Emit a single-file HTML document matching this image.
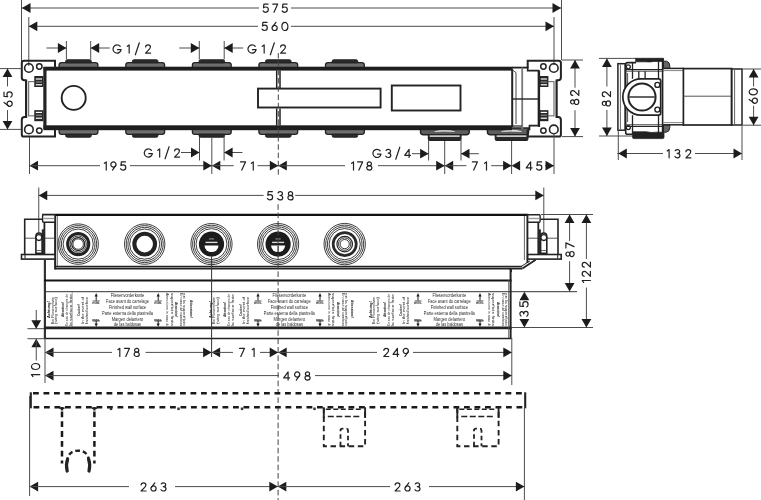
<!DOCTYPE html>
<html><head><meta charset="utf-8"><style>
html,body{margin:0;padding:0;background:#fff;width:761px;height:500px;overflow:hidden}
svg{display:block;will-change:transform}
text{font-family:"Liberation Sans",sans-serif}
</style></head><body>
<svg width="761" height="500" viewBox="0 0 761 500">
<rect x="0" y="0" width="761" height="500" fill="#fff"/>
<line x1="21.5" y1="0" x2="21.5" y2="61" stroke="#4d4d4d" stroke-width="1.0"/>
<line x1="561.5" y1="0" x2="561.5" y2="60" stroke="#4d4d4d" stroke-width="1.0"/>
<line x1="28.8" y1="17" x2="28.8" y2="66" stroke="#4d4d4d" stroke-width="1.0"/>
<line x1="554" y1="17" x2="554" y2="65" stroke="#4d4d4d" stroke-width="1.0"/>
<line x1="22" y1="8" x2="259" y2="8" stroke="#4d4d4d" stroke-width="1.0"/>
<line x1="291" y1="8" x2="561" y2="8" stroke="#4d4d4d" stroke-width="1.0"/>
<polygon points="22.00,8.00 30.50,3.10 30.50,12.90" fill="#1c1c1c"/>
<polygon points="561.00,8.00 552.50,3.10 552.50,12.90" fill="#1c1c1c"/>
<g fill="none" stroke="#222" stroke-width="1.2" stroke-linecap="round" stroke-linejoin="round" transform="translate(262.60 3.60) scale(1.000)"><g transform="translate(0.00 0)"><path d="M5.5,0.5 L1.3,0.5 L0.9,4.2 C1.5,3.7 2.3,3.4 3.2,3.4 C4.7,3.4 5.7,4.5 5.7,6.0 C5.7,7.6 4.6,8.7 3.0,8.7 C1.9,8.7 1.0,8.2 0.5,7.3"/></g><g transform="translate(9.60 0)"><path d="M0.5,0.5 L5.5,0.5 L1.8,8.7"/></g><g transform="translate(19.00 0)"><path d="M5.5,0.5 L1.3,0.5 L0.9,4.2 C1.5,3.7 2.3,3.4 3.2,3.4 C4.7,3.4 5.7,4.5 5.7,6.0 C5.7,7.6 4.6,8.7 3.0,8.7 C1.9,8.7 1.0,8.2 0.5,7.3"/></g></g>
<line x1="28.8" y1="26.3" x2="258" y2="26.3" stroke="#4d4d4d" stroke-width="1.0"/>
<line x1="291" y1="26.3" x2="554" y2="26.3" stroke="#4d4d4d" stroke-width="1.0"/>
<polygon points="28.80,26.30 37.30,21.40 37.30,31.20" fill="#1c1c1c"/>
<polygon points="554.00,26.30 545.50,21.40 545.50,31.20" fill="#1c1c1c"/>
<g fill="none" stroke="#222" stroke-width="1.2" stroke-linecap="round" stroke-linejoin="round" transform="translate(261.60 21.80) scale(1.000)"><g transform="translate(0.00 0)"><path d="M5.5,0.5 L1.3,0.5 L0.9,4.2 C1.5,3.7 2.3,3.4 3.2,3.4 C4.7,3.4 5.7,4.5 5.7,6.0 C5.7,7.6 4.6,8.7 3.0,8.7 C1.9,8.7 1.0,8.2 0.5,7.3"/></g><g transform="translate(9.80 0)"><path d="M4.5,0.5 L1.2,5.0"/><circle cx="3.2" cy="6.1" r="2.6"/></g><g transform="translate(19.80 0)"><ellipse cx="3.5" cy="4.6" rx="3.0" ry="4.1"/></g></g>
<path d="M59.1,68 L59.1,65 Q59.1,62.6 61.7,62.6 L95.3,62.6 Q97.9,62.6 97.9,65 L97.9,68 Z" fill="#6e6e6e" stroke="#232323" stroke-width="1.3" />
<path d="M65.7,62.8 L65.7,61.3 Q65.7,59.8 67.3,59.8 L89.7,59.8 Q91.3,59.8 91.3,61.3 L91.3,62.8 Z" fill="#2b2b2b" stroke="#232323" stroke-width="1" />
<path d="M59.1,129 L59.1,132 Q59.1,134.4 61.7,134.4 L95.3,134.4 Q97.9,134.4 97.9,132 L97.9,129 Z" fill="#6e6e6e" stroke="#232323" stroke-width="1.3" />
<path d="M65.7,134.2 L65.7,135.7 Q65.7,137.2 67.3,137.2 L89.7,137.2 Q91.3,137.2 91.3,135.7 L91.3,134.2 Z" fill="#2b2b2b" stroke="#232323" stroke-width="1" />
<path d="M125.79999999999998,68 L125.79999999999998,65 Q125.79999999999998,62.6 128.39999999999998,62.6 L162.0,62.6 Q164.6,62.6 164.6,65 L164.6,68 Z" fill="#6e6e6e" stroke="#232323" stroke-width="1.3" />
<path d="M132.39999999999998,62.8 L132.39999999999998,61.3 Q132.39999999999998,59.8 134.0,59.8 L156.39999999999998,59.8 Q158.0,59.8 158.0,61.3 L158.0,62.8 Z" fill="#2b2b2b" stroke="#232323" stroke-width="1" />
<path d="M125.79999999999998,129 L125.79999999999998,132 Q125.79999999999998,134.4 128.39999999999998,134.4 L162.0,134.4 Q164.6,134.4 164.6,132 L164.6,129 Z" fill="#6e6e6e" stroke="#232323" stroke-width="1.3" />
<path d="M132.39999999999998,134.2 L132.39999999999998,135.7 Q132.39999999999998,137.2 134.0,137.2 L156.39999999999998,137.2 Q158.0,137.2 158.0,135.7 L158.0,134.2 Z" fill="#2b2b2b" stroke="#232323" stroke-width="1" />
<path d="M192.4,68 L192.4,65 Q192.4,62.6 195.0,62.6 L228.60000000000002,62.6 Q231.20000000000002,62.6 231.20000000000002,65 L231.20000000000002,68 Z" fill="#6e6e6e" stroke="#232323" stroke-width="1.3" />
<path d="M199.0,62.8 L199.0,61.3 Q199.0,59.8 200.60000000000002,59.8 L223.0,59.8 Q224.60000000000002,59.8 224.60000000000002,61.3 L224.60000000000002,62.8 Z" fill="#2b2b2b" stroke="#232323" stroke-width="1" />
<path d="M192.4,129 L192.4,132 Q192.4,134.4 195.0,134.4 L228.60000000000002,134.4 Q231.20000000000002,134.4 231.20000000000002,132 L231.20000000000002,129 Z" fill="#6e6e6e" stroke="#232323" stroke-width="1.3" />
<path d="M199.0,134.2 L199.0,135.7 Q199.0,137.2 200.60000000000002,137.2 L223.0,137.2 Q224.60000000000002,137.2 224.60000000000002,135.7 L224.60000000000002,134.2 Z" fill="#2b2b2b" stroke="#232323" stroke-width="1" />
<path d="M258.90000000000003,68 L258.90000000000003,65 Q258.90000000000003,62.6 261.5,62.6 L295.1,62.6 Q297.7,62.6 297.7,65 L297.7,68 Z" fill="#6e6e6e" stroke="#232323" stroke-width="1.3" />
<path d="M265.5,62.8 L265.5,61.3 Q265.5,59.8 267.1,59.8 L289.5,59.8 Q291.1,59.8 291.1,61.3 L291.1,62.8 Z" fill="#2b2b2b" stroke="#232323" stroke-width="1" />
<path d="M258.90000000000003,129 L258.90000000000003,132 Q258.90000000000003,134.4 261.5,134.4 L295.1,134.4 Q297.7,134.4 297.7,132 L297.7,129 Z" fill="#6e6e6e" stroke="#232323" stroke-width="1.3" />
<path d="M265.5,134.2 L265.5,135.7 Q265.5,137.2 267.1,137.2 L289.5,137.2 Q291.1,137.2 291.1,135.7 L291.1,134.2 Z" fill="#2b2b2b" stroke="#232323" stroke-width="1" />
<path d="M325.5,68 L325.5,65 Q325.5,62.6 328.09999999999997,62.6 L361.7,62.6 Q364.29999999999995,62.6 364.29999999999995,65 L364.29999999999995,68 Z" fill="#6e6e6e" stroke="#232323" stroke-width="1.3" />
<path d="M332.09999999999997,62.8 L332.09999999999997,61.3 Q332.09999999999997,59.8 333.7,59.8 L356.09999999999997,59.8 Q357.7,59.8 357.7,61.3 L357.7,62.8 Z" fill="#2b2b2b" stroke="#232323" stroke-width="1" />
<path d="M325.5,129 L325.5,132 Q325.5,134.4 328.09999999999997,134.4 L361.7,134.4 Q364.29999999999995,134.4 364.29999999999995,132 L364.29999999999995,129 Z" fill="#6e6e6e" stroke="#232323" stroke-width="1.3" />
<path d="M332.09999999999997,134.2 L332.09999999999997,135.7 Q332.09999999999997,137.2 333.7,137.2 L356.09999999999997,137.2 Q357.7,137.2 357.7,135.7 L357.7,134.2 Z" fill="#2b2b2b" stroke="#232323" stroke-width="1" />
<path d="M420.5,128 L420.5,132 Q420.5,134.7 423.5,134.7 L466.2,134.7 Q469.2,134.7 469.2,132 L469.2,128 Z" fill="#5e5e5e" stroke="#232323" stroke-width="1.4" />
<path d="M434.7,131.5 Q444.7,128.6 454.7,131.5 Q444.7,130.9 434.7,131.5 Z" fill="#fff" stroke="#ddd" stroke-width="0.6" />
<path d="M428.4,134.7 L428.4,139 Q428.4,140.4 429.9,140.4 L459.5,140.4 Q461.0,140.4 461.0,139 L461.0,134.7 Z" fill="#2a2a2a" stroke="#232323" stroke-width="1.2" />
<line x1="429.7" y1="136.1" x2="459.7" y2="136.1" stroke="#fff" stroke-width="1.3"/>
<path d="M487.40000000000003,128 L487.40000000000003,132 Q487.40000000000003,134.7 490.40000000000003,134.7 L525.6,134.7 Q528.6,134.7 528.6,132 L528.6,128 Z" fill="#5e5e5e" stroke="#232323" stroke-width="1.4" />
<path d="M501.6,131.5 Q511.6,128.6 521.6,131.5 Q511.6,130.9 501.6,131.5 Z" fill="#fff" stroke="#ddd" stroke-width="0.6" />
<path d="M495.3,134.7 L495.3,139 Q495.3,140.4 496.8,140.4 L526.4,140.4 Q527.9,140.4 527.9,139 L527.9,134.7 Z" fill="#2a2a2a" stroke="#232323" stroke-width="1.2" />
<line x1="496.6" y1="136.1" x2="526.6" y2="136.1" stroke="#fff" stroke-width="1.3"/>
<rect x="43.5" y="66.7" width="469" height="3.9" fill="#1e1e1e"/>
<line x1="512" y1="67.6" x2="528" y2="67.6" stroke="#1e1e1e" stroke-width="1.8"/>
<rect x="43.5" y="125.3" width="468.5" height="4.9" fill="#1e1e1e"/>
<rect x="43.3" y="67.2" width="3.2" height="62" fill="#232323"/>
<circle cx="73.7" cy="97.9" r="12" fill="none" stroke="#232323" stroke-width="1.9"/>
<rect x="258" y="88.6" width="122.6" height="18.9" rx="0" fill="none" stroke="#232323" stroke-width="1.9"/>
<rect x="391.8" y="85.5" width="68.7" height="25" rx="0" fill="none" stroke="#232323" stroke-width="1.9"/>
<line x1="276.7" y1="70.5" x2="276.7" y2="88" stroke="#222" stroke-width="1.5"/>
<line x1="280" y1="70.5" x2="280" y2="88" stroke="#222" stroke-width="1.5"/>
<line x1="276.7" y1="108.5" x2="276.7" y2="125.6" stroke="#222" stroke-width="1.5"/>
<line x1="280" y1="108.5" x2="280" y2="125.6" stroke="#222" stroke-width="1.5"/>
<rect x="511.2" y="69" width="2" height="58" fill="#232323"/>
<line x1="516" y1="72.5" x2="516" y2="124" stroke="#555" stroke-width="1.1"/>
<line x1="512.5" y1="70" x2="516" y2="72.5" stroke="#555" stroke-width="1"/>
<line x1="522.2" y1="67.5" x2="522.2" y2="129" stroke="#7a7a7a" stroke-width="1.8"/>
<line x1="512" y1="99" x2="538.5" y2="99" stroke="#232323" stroke-width="1.4"/>
<line x1="511.5" y1="126" x2="522" y2="126" stroke="#232323" stroke-width="1.2"/>
<g ><path d="M55,68 L55,60.8 L24,60.8 Q21.8,60.8 21.8,63 L21.8,77.5 Q21.8,80.3 24.5,80.3 L26,80.3 M55,129.4 L55,136.6 L24,136.6 Q21.8,136.6 21.8,134.4 L21.8,119.9 Q21.8,117.1 24.5,117.1 L26,117.1 " fill="none" stroke="#232323" stroke-width="2"/><line x1="26.1" y1="79.5" x2="26.1" y2="118" stroke="#232323" stroke-width="2.2"/><line x1="28.7" y1="81" x2="28.7" y2="116.4" stroke="#555" stroke-width="1"/><line x1="28.7" y1="81.6" x2="34.4" y2="81.6" stroke="#777" stroke-width="1.2"/><line x1="28.7" y1="115.8" x2="34.4" y2="115.8" stroke="#777" stroke-width="1.2"/><rect x="34.9" y="76.6" width="7.9" height="9.8" fill="#2a2a2a" stroke="#232323" stroke-width="1.2"/><line x1="35.8" y1="79.0" x2="42" y2="79.0" stroke="#fff" stroke-width="1.2"/><line x1="35.8" y1="82.0" x2="42" y2="82.0" stroke="#999" stroke-width="1"/><line x1="35.8" y1="84.8" x2="42" y2="84.8" stroke="#fff" stroke-width="1.2"/><rect x="34.9" y="110.8" width="7.9" height="9.8" fill="#2a2a2a" stroke="#232323" stroke-width="1.2"/><line x1="35.8" y1="112.39999999999999" x2="42" y2="112.39999999999999" stroke="#fff" stroke-width="1.2"/><line x1="35.8" y1="115.2" x2="42" y2="115.2" stroke="#999" stroke-width="1"/><line x1="35.8" y1="118.2" x2="42" y2="118.2" stroke="#fff" stroke-width="1.2"/><circle cx="28.9" cy="68.0" r="4.3" fill="none" stroke="#232323" stroke-width="1.6"/><circle cx="39.3" cy="66.5" r="2.7" fill="none" stroke="#232323" stroke-width="1.5"/><circle cx="28.9" cy="129.4" r="4.3" fill="none" stroke="#232323" stroke-width="1.6"/><circle cx="39.3" cy="130.6" r="2.7" fill="none" stroke="#232323" stroke-width="1.5"/></g>
<g transform="translate(582.7 0) scale(-1 1)"><path d="M55,68 L55,60.8 L24,60.8 Q21.8,60.8 21.8,63 L21.8,77.5 Q21.8,80.3 24.5,80.3 L26,80.3 M55,129.4 L55,136.6 L24,136.6 Q21.8,136.6 21.8,134.4 L21.8,119.9 Q21.8,117.1 24.5,117.1 L26,117.1 " fill="none" stroke="#232323" stroke-width="2"/><line x1="26.1" y1="79.5" x2="26.1" y2="118" stroke="#232323" stroke-width="2.2"/><line x1="28.7" y1="81" x2="28.7" y2="116.4" stroke="#555" stroke-width="1"/><line x1="28.7" y1="81.6" x2="34.4" y2="81.6" stroke="#777" stroke-width="1.2"/><line x1="28.7" y1="115.8" x2="34.4" y2="115.8" stroke="#777" stroke-width="1.2"/><rect x="34.9" y="76.6" width="7.9" height="9.8" fill="#2a2a2a" stroke="#232323" stroke-width="1.2"/><line x1="35.8" y1="79.0" x2="42" y2="79.0" stroke="#fff" stroke-width="1.2"/><line x1="35.8" y1="82.0" x2="42" y2="82.0" stroke="#999" stroke-width="1"/><line x1="35.8" y1="84.8" x2="42" y2="84.8" stroke="#fff" stroke-width="1.2"/><rect x="34.9" y="110.8" width="7.9" height="9.8" fill="#2a2a2a" stroke="#232323" stroke-width="1.2"/><line x1="35.8" y1="112.39999999999999" x2="42" y2="112.39999999999999" stroke="#fff" stroke-width="1.2"/><line x1="35.8" y1="115.2" x2="42" y2="115.2" stroke="#999" stroke-width="1"/><line x1="35.8" y1="118.2" x2="42" y2="118.2" stroke="#fff" stroke-width="1.2"/><circle cx="28.9" cy="68.0" r="4.3" fill="none" stroke="#232323" stroke-width="1.6"/><circle cx="39.3" cy="66.5" r="2.7" fill="none" stroke="#232323" stroke-width="1.5"/><circle cx="28.9" cy="129.4" r="4.3" fill="none" stroke="#232323" stroke-width="1.6"/><circle cx="39.3" cy="130.6" r="2.7" fill="none" stroke="#232323" stroke-width="1.5"/></g>
<path d="M527.7,67 L527.7,70.6 L538.5,70.6 L538.5,125.6 L529.5,125.6 L529.5,129.4 L527.7,129.4" fill="none" stroke="#232323" stroke-width="1.7" />
<rect x="538.2" y="70.5" width="1.9" height="56.5" fill="#232323"/>
<line x1="66.4" y1="41" x2="66.4" y2="59.5" stroke="#4d4d4d" stroke-width="1.0"/>
<line x1="90.7" y1="41" x2="90.7" y2="59.5" stroke="#4d4d4d" stroke-width="1.0"/>
<line x1="46.4" y1="48" x2="66.4" y2="48" stroke="#4d4d4d" stroke-width="1.0"/>
<polygon points="66.40,48.00 57.90,43.10 57.90,52.90" fill="#1c1c1c"/>
<line x1="90.7" y1="48" x2="109.7" y2="48" stroke="#4d4d4d" stroke-width="1.0"/>
<polygon points="90.70,48.00 99.20,43.10 99.20,52.90" fill="#1c1c1c"/>
<g fill="none" stroke="#222" stroke-width="1.2" stroke-linecap="round" stroke-linejoin="round" transform="translate(112.50 44.40) scale(1.000)"><g transform="translate(0.00 0)"><path d="M7.74,1.96 A4.1,4.1 0 1 0 8.64,5.31 L5.0,5.31"/></g><g transform="translate(14.17 0)"><path d="M0.6,1.9 L2.5,0.5 L2.5,8.7"/></g><g transform="translate(22.33 0)"><path d="M4.5,-1.6 L0.5,10.4"/></g><g transform="translate(32.50 0)"><path d="M0.6,2.6 C0.7,1.3 1.7,0.5 3.0,0.5 C4.4,0.5 5.4,1.4 5.4,2.7 C5.4,3.6 4.9,4.3 4.2,5.0 L0.6,8.7 L5.6,8.7"/></g></g>
<line x1="199.3" y1="41" x2="199.3" y2="59.5" stroke="#4d4d4d" stroke-width="1.0"/>
<line x1="224.2" y1="41" x2="224.2" y2="59.5" stroke="#4d4d4d" stroke-width="1.0"/>
<line x1="179.3" y1="48" x2="199.3" y2="48" stroke="#4d4d4d" stroke-width="1.0"/>
<polygon points="199.30,48.00 190.80,43.10 190.80,52.90" fill="#1c1c1c"/>
<line x1="224.2" y1="48" x2="243.2" y2="48" stroke="#4d4d4d" stroke-width="1.0"/>
<polygon points="224.20,48.00 232.70,43.10 232.70,52.90" fill="#1c1c1c"/>
<g fill="none" stroke="#222" stroke-width="1.2" stroke-linecap="round" stroke-linejoin="round" transform="translate(247.50 44.40) scale(1.000)"><g transform="translate(0.00 0)"><path d="M7.74,1.96 A4.1,4.1 0 1 0 8.64,5.31 L5.0,5.31"/></g><g transform="translate(14.17 0)"><path d="M0.6,1.9 L2.5,0.5 L2.5,8.7"/></g><g transform="translate(22.33 0)"><path d="M4.5,-1.6 L0.5,10.4"/></g><g transform="translate(32.50 0)"><path d="M0.6,2.6 C0.7,1.3 1.7,0.5 3.0,0.5 C4.4,0.5 5.4,1.4 5.4,2.7 C5.4,3.6 4.9,4.3 4.2,5.0 L0.6,8.7 L5.6,8.7"/></g></g>
<line x1="199.5" y1="137" x2="199.5" y2="160.5" stroke="#4d4d4d" stroke-width="1.0"/>
<line x1="224.1" y1="137" x2="224.1" y2="160.5" stroke="#4d4d4d" stroke-width="1.0"/>
<line x1="181" y1="152.5" x2="199.5" y2="152.5" stroke="#4d4d4d" stroke-width="1.0"/>
<polygon points="199.50,152.50 191.00,147.60 191.00,157.40" fill="#1c1c1c"/>
<line x1="224.1" y1="152.5" x2="242.5" y2="152.5" stroke="#4d4d4d" stroke-width="1.0"/>
<polygon points="224.10,152.50 232.60,147.60 232.60,157.40" fill="#1c1c1c"/>
<g fill="none" stroke="#222" stroke-width="1.2" stroke-linecap="round" stroke-linejoin="round" transform="translate(143.75 148.40) scale(1.000)"><g transform="translate(0.00 0)"><path d="M7.74,1.96 A4.1,4.1 0 1 0 8.64,5.31 L5.0,5.31"/></g><g transform="translate(13.42 0)"><path d="M0.6,1.9 L2.5,0.5 L2.5,8.7"/></g><g transform="translate(20.83 0)"><path d="M4.5,-1.6 L0.5,10.4"/></g><g transform="translate(30.25 0)"><path d="M0.6,2.6 C0.7,1.3 1.7,0.5 3.0,0.5 C4.4,0.5 5.4,1.4 5.4,2.7 C5.4,3.6 4.9,4.3 4.2,5.0 L0.6,8.7 L5.6,8.7"/></g></g>
<line x1="428.6" y1="140" x2="428.6" y2="160.5" stroke="#4d4d4d" stroke-width="1.0"/>
<line x1="461" y1="140" x2="461" y2="160.5" stroke="#4d4d4d" stroke-width="1.0"/>
<line x1="412" y1="153.7" x2="428.6" y2="153.7" stroke="#4d4d4d" stroke-width="1.0"/>
<polygon points="428.60,153.70 420.10,148.80 420.10,158.60" fill="#1c1c1c"/>
<line x1="461" y1="153.7" x2="478.8" y2="153.7" stroke="#4d4d4d" stroke-width="1.0"/>
<polygon points="461.00,153.70 469.50,148.80 469.50,158.60" fill="#1c1c1c"/>
<g fill="none" stroke="#222" stroke-width="1.2" stroke-linecap="round" stroke-linejoin="round" transform="translate(372.40 148.80) scale(1.000)"><g transform="translate(0.00 0)"><path d="M7.74,1.96 A4.1,4.1 0 1 0 8.64,5.31 L5.0,5.31"/></g><g transform="translate(12.93 0)"><path d="M0.8,1.6 C1.3,0.9 2.1,0.5 3.0,0.5 C4.3,0.5 5.2,1.3 5.2,2.4 C5.2,3.6 4.2,4.3 2.8,4.3 C4.6,4.3 5.5,5.2 5.5,6.5 C5.5,7.8 4.4,8.7 3.0,8.7 C1.9,8.7 1.0,8.2 0.5,7.4"/></g><g transform="translate(22.87 0)"><path d="M4.5,-1.6 L0.5,10.4"/></g><g transform="translate(31.80 0)"><path d="M4.9,8.7 L4.9,0.5 L0.5,6.5 L6.3,6.5"/></g></g>
<line x1="29.5" y1="137" x2="29.5" y2="174" stroke="#4d4d4d" stroke-width="1.0"/>
<line x1="211.8" y1="137" x2="211.8" y2="174" stroke="#4d4d4d" stroke-width="1.0"/>
<line x1="444.7" y1="141" x2="444.7" y2="174" stroke="#4d4d4d" stroke-width="1.0"/>
<line x1="511.6" y1="141" x2="511.6" y2="174" stroke="#4d4d4d" stroke-width="1.0"/>
<line x1="554" y1="133" x2="554" y2="174" stroke="#4d4d4d" stroke-width="1.0"/>
<polygon points="29.50,165.70 38.00,160.80 38.00,170.60" fill="#1c1c1c"/>
<line x1="29.5" y1="165.7" x2="100" y2="165.7" stroke="#4d4d4d" stroke-width="1.0"/>
<g fill="none" stroke="#222" stroke-width="1.2" stroke-linecap="round" stroke-linejoin="round" transform="translate(103.75 161.40) scale(1.000)"><g transform="translate(0.00 0)"><path d="M0.6,1.9 L2.5,0.5 L2.5,8.7"/></g><g transform="translate(6.45 0)"><circle cx="3.2" cy="3.1" r="2.6"/><path d="M5.6,4.0 L2.3,8.7"/></g><g transform="translate(16.30 0)"><path d="M5.5,0.5 L1.3,0.5 L0.9,4.2 C1.5,3.7 2.3,3.4 3.2,3.4 C4.7,3.4 5.7,4.5 5.7,6.0 C5.7,7.6 4.6,8.7 3.0,8.7 C1.9,8.7 1.0,8.2 0.5,7.3"/></g></g>
<line x1="130" y1="165.7" x2="211.8" y2="165.7" stroke="#4d4d4d" stroke-width="1.0"/>
<polygon points="211.80,165.70 203.30,160.80 203.30,170.60" fill="#1c1c1c"/>
<polygon points="211.80,165.70 220.30,160.80 220.30,170.60" fill="#1c1c1c"/>
<line x1="211.8" y1="165.7" x2="233.75" y2="165.7" stroke="#4d4d4d" stroke-width="1.0"/>
<g fill="none" stroke="#222" stroke-width="1.2" stroke-linecap="round" stroke-linejoin="round" transform="translate(240.00 161.40) scale(1.000)"><g transform="translate(0.00 0)"><path d="M0.5,0.5 L5.5,0.5 L1.8,8.7"/></g><g transform="translate(10.75 0)"><path d="M0.6,1.9 L2.5,0.5 L2.5,8.7"/></g></g>
<line x1="257.5" y1="165.7" x2="278.3" y2="165.7" stroke="#4d4d4d" stroke-width="1.0"/>
<polygon points="278.30,165.70 269.80,160.80 269.80,170.60" fill="#1c1c1c"/>
<polygon points="278.30,165.70 286.80,160.80 286.80,170.60" fill="#1c1c1c"/>
<line x1="278.3" y1="165.7" x2="345" y2="165.7" stroke="#4d4d4d" stroke-width="1.0"/>
<g fill="none" stroke="#222" stroke-width="1.2" stroke-linecap="round" stroke-linejoin="round" transform="translate(351.00 161.40) scale(1.000)"><g transform="translate(0.00 0)"><path d="M0.6,1.9 L2.5,0.5 L2.5,8.7"/></g><g transform="translate(6.10 0)"><path d="M0.5,0.5 L5.5,0.5 L1.8,8.7"/></g><g transform="translate(15.20 0)"><ellipse cx="3.1" cy="2.45" rx="2.1" ry="1.95"/><ellipse cx="3.1" cy="6.45" rx="2.6" ry="2.25"/></g></g>
<line x1="378" y1="165.7" x2="444.7" y2="165.7" stroke="#4d4d4d" stroke-width="1.0"/>
<polygon points="444.70,165.70 436.20,160.80 436.20,170.60" fill="#1c1c1c"/>
<polygon points="444.70,165.70 453.20,160.80 453.20,170.60" fill="#1c1c1c"/>
<line x1="444.7" y1="165.7" x2="466.4" y2="165.7" stroke="#4d4d4d" stroke-width="1.0"/>
<g fill="none" stroke="#222" stroke-width="1.2" stroke-linecap="round" stroke-linejoin="round" transform="translate(471.90 161.40) scale(1.000)"><g transform="translate(0.00 0)"><path d="M0.5,0.5 L5.5,0.5 L1.8,8.7"/></g><g transform="translate(12.10 0)"><path d="M0.6,1.9 L2.5,0.5 L2.5,8.7"/></g></g>
<line x1="491.2" y1="165.7" x2="511.6" y2="165.7" stroke="#4d4d4d" stroke-width="1.0"/>
<polygon points="511.60,165.70 503.10,160.80 503.10,170.60" fill="#1c1c1c"/>
<polygon points="511.60,165.70 520.10,160.80 520.10,170.60" fill="#1c1c1c"/>
<g fill="none" stroke="#222" stroke-width="1.2" stroke-linecap="round" stroke-linejoin="round" transform="translate(525.70 161.40) scale(1.000)"><g transform="translate(0.00 0)"><path d="M4.9,8.7 L4.9,0.5 L0.5,6.5 L6.3,6.5"/></g><g transform="translate(10.40 0)"><path d="M5.5,0.5 L1.3,0.5 L0.9,4.2 C1.5,3.7 2.3,3.4 3.2,3.4 C4.7,3.4 5.7,4.5 5.7,6.0 C5.7,7.6 4.6,8.7 3.0,8.7 C1.9,8.7 1.0,8.2 0.5,7.3"/></g></g>
<line x1="545" y1="165.7" x2="554" y2="165.7" stroke="#4d4d4d" stroke-width="1.0"/>
<polygon points="554.00,165.70 545.50,160.80 545.50,170.60" fill="#1c1c1c"/>
<line x1="278.3" y1="53" x2="278.3" y2="177" stroke="#444" stroke-width="1" stroke-dasharray="5.5,2.8"/>
<line x1="0" y1="68.6" x2="21.5" y2="68.6" stroke="#4d4d4d" stroke-width="1.0"/>
<line x1="0" y1="129.4" x2="21.5" y2="129.4" stroke="#4d4d4d" stroke-width="1.0"/>
<line x1="7.5" y1="68.6" x2="7.5" y2="86.4" stroke="#4d4d4d" stroke-width="1.0"/>
<line x1="7.5" y1="110.1" x2="7.5" y2="129.4" stroke="#4d4d4d" stroke-width="1.0"/>
<polygon points="7.50,68.60 2.60,77.10 12.40,77.10" fill="#1c1c1c"/>
<polygon points="7.50,129.40 2.60,120.90 12.40,120.90" fill="#1c1c1c"/>
<g fill="none" stroke="#222" stroke-width="1.2" stroke-linecap="round" stroke-linejoin="round" transform="translate(3.50 107.00) rotate(-90) scale(1.000)"><g transform="translate(0.00 0)"><path d="M4.5,0.5 L1.2,5.0"/><circle cx="3.2" cy="6.1" r="2.6"/></g><g transform="translate(9.40 0)"><path d="M5.5,0.5 L1.3,0.5 L0.9,4.2 C1.5,3.7 2.3,3.4 3.2,3.4 C4.7,3.4 5.7,4.5 5.7,6.0 C5.7,7.6 4.6,8.7 3.0,8.7 C1.9,8.7 1.0,8.2 0.5,7.3"/></g></g>
<line x1="562" y1="60" x2="583" y2="60" stroke="#4d4d4d" stroke-width="1.0"/>
<line x1="562" y1="136.6" x2="583" y2="136.6" stroke="#4d4d4d" stroke-width="1.0"/>
<line x1="575" y1="60" x2="575" y2="87.7" stroke="#4d4d4d" stroke-width="1.0"/>
<line x1="575" y1="110.2" x2="575" y2="136.6" stroke="#4d4d4d" stroke-width="1.0"/>
<polygon points="575.00,60.00 570.10,68.50 579.90,68.50" fill="#1c1c1c"/>
<polygon points="575.00,136.60 570.10,128.10 579.90,128.10" fill="#1c1c1c"/>
<g fill="none" stroke="#222" stroke-width="1.2" stroke-linecap="round" stroke-linejoin="round" transform="translate(570.10 105.00) rotate(-90) scale(1.000)"><g transform="translate(0.00 0)"><ellipse cx="3.1" cy="2.45" rx="2.1" ry="1.95"/><ellipse cx="3.1" cy="6.45" rx="2.6" ry="2.25"/></g><g transform="translate(9.00 0)"><path d="M0.6,2.6 C0.7,1.3 1.7,0.5 3.0,0.5 C4.4,0.5 5.4,1.4 5.4,2.7 C5.4,3.6 4.9,4.3 4.2,5.0 L0.6,8.7 L5.6,8.7"/></g></g>
<line x1="599" y1="58.4" x2="636" y2="58.4" stroke="#4d4d4d" stroke-width="1.0"/>
<line x1="599" y1="136" x2="632" y2="136" stroke="#4d4d4d" stroke-width="1.0"/>
<line x1="606.9" y1="58.4" x2="606.9" y2="86.5" stroke="#4d4d4d" stroke-width="1.0"/>
<line x1="606.9" y1="109.9" x2="606.9" y2="136" stroke="#4d4d4d" stroke-width="1.0"/>
<polygon points="606.90,58.40 602.00,66.90 611.80,66.90" fill="#1c1c1c"/>
<polygon points="606.90,136.00 602.00,127.50 611.80,127.50" fill="#1c1c1c"/>
<g fill="none" stroke="#222" stroke-width="1.2" stroke-linecap="round" stroke-linejoin="round" transform="translate(601.80 106.50) rotate(-90) scale(1.000)"><g transform="translate(0.00 0)"><ellipse cx="3.1" cy="2.45" rx="2.1" ry="1.95"/><ellipse cx="3.1" cy="6.45" rx="2.6" ry="2.25"/></g><g transform="translate(9.30 0)"><path d="M0.6,2.6 C0.7,1.3 1.7,0.5 3.0,0.5 C4.4,0.5 5.4,1.4 5.4,2.7 C5.4,3.6 4.9,4.3 4.2,5.0 L0.6,8.7 L5.6,8.7"/></g></g>
<rect x="617.9" y="63.7" width="7.2" height="66.5" rx="0" fill="none" stroke="#232323" stroke-width="1.5"/>
<line x1="620.4" y1="64.5" x2="620.4" y2="129.5" stroke="#666" stroke-width="1"/>
<path d="M625.7,64.5 Q625.7,62.6 627.6,62.6 L636,62.6 M625.7,64.5 L625.7,132.5 Q625.7,134.3 627.6,134.3 L632.5,134.3" fill="none" stroke="#232323" stroke-width="1.6" />
<path d="M635.7,58.3 L663.5,58.3 L663.5,61.4 L654,61.4 Q650,62.3 646,61.8 L635.7,61.8 Z" fill="#222" stroke="#232323" stroke-width="0.8" />
<path d="M632.5,131.8 L646,131.8 Q652,133 657,132.2 L664,132.2 L664,137.3 Q664,138.6 662.5,138.6 L634,138.6 Q632.5,138.6 632.5,137.3 Z" fill="#222" stroke="#232323" stroke-width="0.8" />
<line x1="625.7" y1="69.6" x2="663.5" y2="69.6" stroke="#232323" stroke-width="1.4"/>
<line x1="625.7" y1="71.3" x2="663.5" y2="71.3" stroke="#555" stroke-width="0.9"/>
<line x1="625.7" y1="126.4" x2="663.5" y2="126.4" stroke="#232323" stroke-width="1.4"/>
<line x1="625.7" y1="124.6" x2="663.5" y2="124.6" stroke="#555" stroke-width="0.9"/>
<line x1="632.5" y1="71" x2="658.3" y2="71" stroke="#4d4d4d" stroke-width="0.1"/>
<line x1="632.5" y1="71.3" x2="632.5" y2="78.8" stroke="#232323" stroke-width="1.3"/>
<line x1="638.8" y1="71.3" x2="638.8" y2="78.8" stroke="#232323" stroke-width="1.3"/>
<line x1="645.1" y1="71.3" x2="645.1" y2="78.8" stroke="#232323" stroke-width="1.3"/>
<line x1="632.5" y1="115.2" x2="632.5" y2="124.6" stroke="#232323" stroke-width="1.3"/>
<line x1="632.5" y1="62" x2="632.5" y2="71" stroke="#232323" stroke-width="1.3"/>
<line x1="632.5" y1="124" x2="632.5" y2="134" stroke="#232323" stroke-width="1.3"/>
<line x1="658.5" y1="58.5" x2="658.5" y2="138" stroke="#232323" stroke-width="1.3"/>
<line x1="662.6" y1="58.5" x2="662.6" y2="138" stroke="#232323" stroke-width="1.6"/>
<circle cx="628.3" cy="66.8" r="2" fill="none" stroke="#232323" stroke-width="1.3"/>
<circle cx="628.3" cy="127.6" r="2" fill="none" stroke="#232323" stroke-width="1.3"/>
<line x1="627.6" y1="73" x2="627.6" y2="122" stroke="#555" stroke-width="1"/>
<path d="M660.7,81 Q660.7,78.8 658.5,78.8 L641,78.8 A18.15,18.15 0 0 0 641,115.1 L658.5,115.1 Q660.7,115.1 660.7,113 Z" fill="#fff" stroke="#232323" stroke-width="1.7" />
<circle cx="642" cy="97" r="13.6" fill="none" stroke="#232323" stroke-width="2"/>
<line x1="629.3" y1="97" x2="654.7" y2="97" stroke="#232323" stroke-width="1.4"/>
<circle cx="657.4" cy="84.9" r="2.5" fill="none" stroke="#232323" stroke-width="1.4"/>
<circle cx="657.4" cy="109.6" r="2.5" fill="none" stroke="#232323" stroke-width="1.4"/>
<path d="M663.5,61.2 L666.5,61.2 Q669.8,62 669.8,66 L669.8,68.4 L663.5,68.4 Z" fill="#666" stroke="#232323" stroke-width="1" />
<path d="M663.5,132.2 L666.5,132.2 Q669.8,131.4 669.8,127.4 L669.8,124.8 L663.5,124.8 Z" fill="#666" stroke="#232323" stroke-width="1" />
<line x1="663.5" y1="68.4" x2="684" y2="68.4" stroke="#232323" stroke-width="1.5"/>
<line x1="663.5" y1="124.8" x2="684" y2="124.8" stroke="#232323" stroke-width="1.5"/>
<line x1="663.5" y1="70.6" x2="684" y2="70.6" stroke="#777" stroke-width="0.9"/>
<line x1="663.5" y1="122.6" x2="684" y2="122.6" stroke="#777" stroke-width="0.9"/>
<rect x="683.4" y="68.6" width="48.2" height="56.4" rx="0" fill="none" stroke="#232323" stroke-width="1.7"/>
<line x1="683.4" y1="96.2" x2="731.6" y2="96.2" stroke="#555" stroke-width="1"/>
<rect x="731.6" y="69" width="10.4" height="56" rx="0" fill="none" stroke="#232323" stroke-width="1.5"/>
<line x1="734.6" y1="70" x2="734.6" y2="124" stroke="#666" stroke-width="1"/>
<line x1="742.5" y1="69" x2="761" y2="69" stroke="#4d4d4d" stroke-width="1.0"/>
<line x1="742.5" y1="125.2" x2="761" y2="125.2" stroke="#4d4d4d" stroke-width="1.0"/>
<line x1="753.6" y1="69" x2="753.6" y2="86.6" stroke="#4d4d4d" stroke-width="1.0"/>
<line x1="753.6" y1="105.8" x2="753.6" y2="125.2" stroke="#4d4d4d" stroke-width="1.0"/>
<polygon points="753.60,69.00 748.70,77.50 758.50,77.50" fill="#1c1c1c"/>
<polygon points="753.60,125.20 748.70,116.70 758.50,116.70" fill="#1c1c1c"/>
<g fill="none" stroke="#222" stroke-width="1.2" stroke-linecap="round" stroke-linejoin="round" transform="translate(748.70 103.90) rotate(-90) scale(1.000)"><g transform="translate(0.00 0)"><path d="M4.5,0.5 L1.2,5.0"/><circle cx="3.2" cy="6.1" r="2.6"/></g><g transform="translate(8.60 0)"><ellipse cx="3.5" cy="4.6" rx="3.0" ry="4.1"/></g></g>
<line x1="618.3" y1="129" x2="618.3" y2="160" stroke="#4d4d4d" stroke-width="1.0"/>
<line x1="742" y1="126" x2="742" y2="160" stroke="#4d4d4d" stroke-width="1.0"/>
<line x1="617.3" y1="153.5" x2="663" y2="153.5" stroke="#4d4d4d" stroke-width="1.0"/>
<line x1="695" y1="153.5" x2="742" y2="153.5" stroke="#4d4d4d" stroke-width="1.0"/>
<polygon points="618.30,153.50 626.80,148.60 626.80,158.40" fill="#1c1c1c"/>
<polygon points="742.00,153.50 733.50,148.60 733.50,158.40" fill="#1c1c1c"/>
<g fill="none" stroke="#222" stroke-width="1.2" stroke-linecap="round" stroke-linejoin="round" transform="translate(666.60 149.10) scale(1.000)"><g transform="translate(0.00 0)"><path d="M0.6,1.9 L2.5,0.5 L2.5,8.7"/></g><g transform="translate(7.85 0)"><path d="M0.8,1.6 C1.3,0.9 2.1,0.5 3.0,0.5 C4.3,0.5 5.2,1.3 5.2,2.4 C5.2,3.6 4.2,4.3 2.8,4.3 C4.6,4.3 5.5,5.2 5.5,6.5 C5.5,7.8 4.4,8.7 3.0,8.7 C1.9,8.7 1.0,8.2 0.5,7.4"/></g><g transform="translate(18.70 0)"><path d="M0.6,2.6 C0.7,1.3 1.7,0.5 3.0,0.5 C4.4,0.5 5.4,1.4 5.4,2.7 C5.4,3.6 4.9,4.3 4.2,5.0 L0.6,8.7 L5.6,8.7"/></g></g>
<line x1="38.75" y1="187.5" x2="38.75" y2="237" stroke="#4d4d4d" stroke-width="1.0"/>
<line x1="543.8" y1="187.5" x2="543.8" y2="237" stroke="#4d4d4d" stroke-width="1.0"/>
<line x1="38.75" y1="195.4" x2="263.6" y2="195.4" stroke="#4d4d4d" stroke-width="1.0"/>
<line x1="295.2" y1="195.4" x2="543.8" y2="195.4" stroke="#4d4d4d" stroke-width="1.0"/>
<polygon points="38.75,195.40 47.25,190.50 47.25,200.30" fill="#1c1c1c"/>
<polygon points="543.80,195.40 535.30,190.50 535.30,200.30" fill="#1c1c1c"/>
<g fill="none" stroke="#222" stroke-width="1.2" stroke-linecap="round" stroke-linejoin="round" transform="translate(266.90 191.20) scale(1.000)"><g transform="translate(0.00 0)"><path d="M5.5,0.5 L1.3,0.5 L0.9,4.2 C1.5,3.7 2.3,3.4 3.2,3.4 C4.7,3.4 5.7,4.5 5.7,6.0 C5.7,7.6 4.6,8.7 3.0,8.7 C1.9,8.7 1.0,8.2 0.5,7.3"/></g><g transform="translate(10.35 0)"><path d="M0.8,1.6 C1.3,0.9 2.1,0.5 3.0,0.5 C4.3,0.5 5.2,1.3 5.2,2.4 C5.2,3.6 4.2,4.3 2.8,4.3 C4.6,4.3 5.5,5.2 5.5,6.5 C5.5,7.8 4.4,8.7 3.0,8.7 C1.9,8.7 1.0,8.2 0.5,7.4"/></g><g transform="translate(20.50 0)"><ellipse cx="3.1" cy="2.45" rx="2.1" ry="1.95"/><ellipse cx="3.1" cy="6.45" rx="2.6" ry="2.25"/></g></g>
<line x1="42.2" y1="214.9" x2="528.4" y2="214.9" stroke="#111" stroke-width="2.3"/>
<line x1="55.1" y1="214" x2="55.1" y2="269.5" stroke="#232323" stroke-width="2"/>
<line x1="57.3" y1="216" x2="57.3" y2="266" stroke="#555" stroke-width="0.9"/>
<line x1="527.4" y1="214" x2="527.4" y2="263" stroke="#232323" stroke-width="1.9"/>
<line x1="524.4" y1="216" x2="524.4" y2="260" stroke="#555" stroke-width="0.9"/>
<line x1="55" y1="266.3" x2="522" y2="266.3" stroke="#232323" stroke-width="1.2"/>
<line x1="55" y1="268.5" x2="522.4" y2="268.5" stroke="#232323" stroke-width="1.9"/>
<path d="M522.4,268.5 L535.7,259.8" fill="none" stroke="#232323" stroke-width="1.8" />
<path d="M521.5,266.3 L530,260.8" fill="none" stroke="#232323" stroke-width="1" />
<path d="M509.5,268.5 Q511.2,269 511.2,272" fill="none" stroke="#232323" stroke-width="1.8" />
<circle cx="78.2" cy="244.1" r="20.2" fill="none" stroke="#1a1a1a" stroke-width="0.85"/>
<circle cx="78.2" cy="244.1" r="18.5" fill="none" stroke="#1a1a1a" stroke-width="0.85"/>
<circle cx="78.2" cy="244.1" r="16.8" fill="none" stroke="#1a1a1a" stroke-width="0.85"/>
<circle cx="78.2" cy="244.1" r="15.1" fill="none" stroke="#1a1a1a" stroke-width="0.85"/>
<circle cx="144.7" cy="244.1" r="20.2" fill="none" stroke="#1a1a1a" stroke-width="0.85"/>
<circle cx="144.7" cy="244.1" r="18.5" fill="none" stroke="#1a1a1a" stroke-width="0.85"/>
<circle cx="144.7" cy="244.1" r="16.8" fill="none" stroke="#1a1a1a" stroke-width="0.85"/>
<circle cx="144.7" cy="244.1" r="15.1" fill="none" stroke="#1a1a1a" stroke-width="0.85"/>
<circle cx="211.5" cy="244.1" r="20.6" fill="none" stroke="#1a1a1a" stroke-width="0.85"/>
<circle cx="211.5" cy="244.1" r="18.9" fill="none" stroke="#1a1a1a" stroke-width="0.85"/>
<circle cx="211.5" cy="244.1" r="17.2" fill="none" stroke="#1a1a1a" stroke-width="0.85"/>
<circle cx="211.5" cy="244.1" r="15.5" fill="none" stroke="#1a1a1a" stroke-width="0.85"/>
<circle cx="278.1" cy="244.1" r="20.6" fill="none" stroke="#1a1a1a" stroke-width="0.85"/>
<circle cx="278.1" cy="244.1" r="18.9" fill="none" stroke="#1a1a1a" stroke-width="0.85"/>
<circle cx="278.1" cy="244.1" r="17.2" fill="none" stroke="#1a1a1a" stroke-width="0.85"/>
<circle cx="278.1" cy="244.1" r="15.5" fill="none" stroke="#1a1a1a" stroke-width="0.85"/>
<circle cx="344.7" cy="244.1" r="20.7" fill="none" stroke="#1a1a1a" stroke-width="0.85"/>
<circle cx="344.7" cy="244.1" r="19" fill="none" stroke="#1a1a1a" stroke-width="0.85"/>
<circle cx="344.7" cy="244.1" r="17.3" fill="none" stroke="#1a1a1a" stroke-width="0.85"/>
<circle cx="344.7" cy="244.1" r="15.6" fill="none" stroke="#1a1a1a" stroke-width="0.85"/>
<circle cx="78.2" cy="244.1" r="10.55" fill="none" stroke="#232323" stroke-width="3.1"/>
<circle cx="78.2" cy="244.1" r="8.1" fill="none" stroke="#232323" stroke-width="0.9"/>
<circle cx="78.2" cy="244.1" r="6.5" fill="none" stroke="#232323" stroke-width="1.2"/>
<circle cx="78.2" cy="244.1" r="5.2" fill="none" stroke="#232323" stroke-width="0.8"/>
<circle cx="144.7" cy="244.1" r="10.35" fill="none" stroke="#232323" stroke-width="4.1"/>
<circle cx="211.5" cy="244.1" r="12.6" fill="#1c1c1c" stroke="#232323" stroke-width="0"/>
<path d="M204.5,245.6 L218.5,245.6 A7,6.4 0 0 1 204.5,245.6 Z" fill="#fff" stroke="#232323" stroke-width="0" />
<rect x="205.5" y="241.7" width="12" height="1.4" fill="#d8d8d8"/>
<rect x="208.9" y="238.5" width="5.2" height="0.9" fill="#aaa"/>
<circle cx="278.1" cy="244.1" r="12.6" fill="#1c1c1c" stroke="#232323" stroke-width="0"/>
<path d="M271.1,245.6 L285.1,245.6 A7,6.4 0 0 1 271.1,245.6 Z" fill="#fff" stroke="#232323" stroke-width="0" />
<rect x="272.1" y="241.7" width="12" height="1.4" fill="#d8d8d8"/>
<rect x="275.5" y="238.5" width="5.2" height="0.9" fill="#aaa"/>
<line x1="278.1" y1="245.6" x2="278.1" y2="252.1" stroke="#333" stroke-width="0.9"/>
<circle cx="344.7" cy="244.1" r="11.55" fill="none" stroke="#2a2a2a" stroke-width="2.7"/>
<circle cx="344.7" cy="244.1" r="7.8" fill="none" stroke="#232323" stroke-width="1.2"/>
<circle cx="344.7" cy="244.1" r="6.2" fill="none" stroke="#232323" stroke-width="0.9"/>
<circle cx="344.7" cy="244.1" r="4.6" fill="none" stroke="#232323" stroke-width="0.9"/>
<g ><path d="M42.3,219.3 L24.7,219.3 L24.7,254.5" fill="none" stroke="#232323" stroke-width="1.6"/><line x1="24.7" y1="238.2" x2="35.5" y2="238.2" stroke="#444" stroke-width="0.9"/><line x1="44.5" y1="238.2" x2="55" y2="238.2" stroke="#444" stroke-width="0.9"/><rect x="21.5" y="254.5" width="33.5" height="4.6" fill="#fff" stroke="#232323" stroke-width="1.6"/><line x1="25" y1="255" x2="25" y2="258.6" stroke="#232323" stroke-width="1"/><rect x="42.6" y="214.7" width="12.4" height="7.6" rx="1" fill="#fff" stroke="#232323" stroke-width="1.4"/><line x1="43.5" y1="218.5" x2="54" y2="218.5" stroke="#999" stroke-width="1.4"/><line x1="44.4" y1="222" x2="44.4" y2="254.5" stroke="#232323" stroke-width="1.8"/><rect x="41.8" y="229.3" width="2.6" height="25" fill="#2a2a2a"/><path d="M35.9,253.3 L35.9,236.5 Q35.9,233 39,233 Q42.1,233 42.1,236.5 L42.1,253.3 Z" fill="#fff" stroke="#232323" stroke-width="1.6"/><line x1="36.2" y1="250.5" x2="41.8" y2="250.5" stroke="#555" stroke-width="0.9"/><circle cx="38.9" cy="237.6" r="2.9" fill="#fff" stroke="#232323" stroke-width="1.3"/></g>
<g transform="translate(582.7 0) scale(-1 1)"><path d="M42.3,219.3 L24.7,219.3 L24.7,254.5" fill="none" stroke="#232323" stroke-width="1.6"/><line x1="24.7" y1="238.2" x2="35.5" y2="238.2" stroke="#444" stroke-width="0.9"/><line x1="44.5" y1="238.2" x2="55" y2="238.2" stroke="#444" stroke-width="0.9"/><rect x="21.5" y="254.5" width="33.5" height="4.6" fill="#fff" stroke="#232323" stroke-width="1.6"/><line x1="25" y1="255" x2="25" y2="258.6" stroke="#232323" stroke-width="1"/><rect x="42.6" y="214.7" width="12.4" height="7.6" rx="1" fill="#fff" stroke="#232323" stroke-width="1.4"/><line x1="43.5" y1="218.5" x2="54" y2="218.5" stroke="#999" stroke-width="1.4"/><line x1="44.4" y1="222" x2="44.4" y2="254.5" stroke="#232323" stroke-width="1.8"/><rect x="41.8" y="229.3" width="2.6" height="25" fill="#2a2a2a"/><path d="M35.9,253.3 L35.9,236.5 Q35.9,233 39,233 Q42.1,233 42.1,236.5 L42.1,253.3 Z" fill="#fff" stroke="#232323" stroke-width="1.6"/><line x1="36.2" y1="250.5" x2="41.8" y2="250.5" stroke="#555" stroke-width="0.9"/><circle cx="38.9" cy="237.6" r="2.9" fill="#fff" stroke="#232323" stroke-width="1.3"/></g>
<line x1="44.9" y1="259" x2="44.9" y2="339" stroke="#333" stroke-width="2.2"/>
<line x1="44" y1="280.6" x2="511.6" y2="280.6" stroke="#151515" stroke-width="2.0"/>
<line x1="44" y1="291.7" x2="577" y2="291.7" stroke="#333" stroke-width="1"/>
<line x1="44" y1="327.9" x2="511.6" y2="327.9" stroke="#232323" stroke-width="2.6"/>
<line x1="511.6" y1="327.5" x2="593" y2="327.5" stroke="#4d4d4d" stroke-width="1"/>
<line x1="44" y1="338.5" x2="511.6" y2="338.5" stroke="#232323" stroke-width="1.5"/>
<line x1="510.6" y1="269" x2="510.6" y2="339" stroke="#232323" stroke-width="2"/>
<line x1="508.6" y1="280" x2="508.6" y2="338" stroke="#555" stroke-width="0.8"/>
<clipPath id="sc"><rect x="46" y="292" width="463" height="35"/></clipPath><g clip-path="url(#sc)">
<text x="110.70" y="297.1" font-size="5.3" textLength="33.6" lengthAdjust="spacingAndGlyphs" fill="#2a2a2a" font-family="Liberation Sans">Fliesenvorderkante</text>
<text x="106.10" y="303.40000000000003" font-size="5.3" textLength="42.8" lengthAdjust="spacingAndGlyphs" fill="#2a2a2a" font-family="Liberation Sans">Face avant du carrelage</text>
<text x="108.90" y="309.2" font-size="5.3" textLength="37.2" lengthAdjust="spacingAndGlyphs" fill="#2a2a2a" font-family="Liberation Sans">Finished wall surface</text>
<text x="101.95" y="315.2" font-size="5.3" textLength="51.1" lengthAdjust="spacingAndGlyphs" fill="#2a2a2a" font-family="Liberation Sans">Parte esterna della piastrella</text>
<text x="111.65" y="321.3" font-size="5.3" textLength="31.7" lengthAdjust="spacingAndGlyphs" fill="#2a2a2a" font-family="Liberation Sans">Margen delantero</text>
<text x="113.95" y="326.2" font-size="5.3" textLength="27.1" lengthAdjust="spacingAndGlyphs" fill="#2a2a2a" font-family="Liberation Sans">de las baldosas</text>
<path d="M96.2,293 L94.60000000000001,296.5 L97.8,296.5 Z" fill="#222" stroke="#232323" stroke-width="0" />
<line x1="96.2" y1="296" x2="96.2" y2="300.5" stroke="#222" stroke-width="1"/>
<line x1="92.7" y1="301" x2="99.7" y2="301" stroke="#222" stroke-width="0.8"/>
<text x="92.2" y="303.8" font-size="4.2" textLength="8" lengthAdjust="spacingAndGlyphs" fill="#222" font-family="Liberation Sans" font-weight="bold">min.</text>
<text x="92.2" y="320.6" font-size="4.2" textLength="8" lengthAdjust="spacingAndGlyphs" fill="#222" font-family="Liberation Sans" font-weight="bold">max.</text>
<line x1="92.7" y1="321" x2="99.7" y2="321" stroke="#222" stroke-width="0.8"/>
<line x1="96.2" y1="321" x2="96.2" y2="325" stroke="#222" stroke-width="1"/>
<path d="M96.2,327 L94.60000000000001,323.5 L97.8,323.5 Z" fill="#222" stroke="#232323" stroke-width="0" />
<path d="M158.2,293 L156.6,296.5 L159.79999999999998,296.5 Z" fill="#222" stroke="#232323" stroke-width="0" />
<line x1="158.2" y1="296" x2="158.2" y2="300.5" stroke="#222" stroke-width="1"/>
<line x1="154.7" y1="301" x2="161.7" y2="301" stroke="#222" stroke-width="0.8"/>
<text x="154.2" y="303.8" font-size="4.2" textLength="8" lengthAdjust="spacingAndGlyphs" fill="#222" font-family="Liberation Sans" font-weight="bold">min.</text>
<text x="154.2" y="320.6" font-size="4.2" textLength="8" lengthAdjust="spacingAndGlyphs" fill="#222" font-family="Liberation Sans" font-weight="bold">max.</text>
<line x1="154.7" y1="321" x2="161.7" y2="321" stroke="#222" stroke-width="0.8"/>
<line x1="158.2" y1="321" x2="158.2" y2="325" stroke="#222" stroke-width="1"/>
<path d="M158.2,327 L156.6,323.5 L159.79999999999998,323.5 Z" fill="#222" stroke="#232323" stroke-width="0" />
<text x="49.7" y="318" font-size="4.3" textLength="17" lengthAdjust="spacingAndGlyphs" fill="#1e1e1e" font-family="Liberation Sans" font-weight="bold" transform="rotate(-90 49.7 318)">Achtung!</text>
<text x="53.5" y="324" font-size="4.3" textLength="27" lengthAdjust="spacingAndGlyphs" fill="#1e1e1e" font-family="Liberation Sans" font-weight="normal" transform="rotate(-90 53.5 324)">Bei Fliesenplatte</text>
<text x="57.300000000000004" y="324" font-size="4.3" textLength="27" lengthAdjust="spacingAndGlyphs" fill="#1e1e1e" font-family="Liberation Sans" font-weight="normal" transform="rotate(-90 57.300000000000004 324)">(wing surface)</text>
<text x="64.30000000000001" y="317" font-size="4.3" textLength="15" lengthAdjust="spacingAndGlyphs" fill="#1e1e1e" font-family="Liberation Sans" font-weight="bold" transform="rotate(-90 64.30000000000001 317)">Attention!</text>
<text x="68.2" y="326" font-size="4.3" textLength="32" lengthAdjust="spacingAndGlyphs" fill="#1e1e1e" font-family="Liberation Sans" font-weight="normal" transform="rotate(-90 68.2 326)">En cas de changes de</text>
<text x="72.1" y="326" font-size="4.3" textLength="32" lengthAdjust="spacingAndGlyphs" fill="#1e1e1e" font-family="Liberation Sans" font-weight="normal" transform="rotate(-90 72.1 326)">la surface finie</text>
<text x="79.80000000000001" y="316" font-size="4.3" textLength="12" lengthAdjust="spacingAndGlyphs" fill="#1e1e1e" font-family="Liberation Sans" font-weight="bold" transform="rotate(-90 79.80000000000001 316)">Caution!</text>
<text x="83.6" y="324" font-size="4.3" textLength="27" lengthAdjust="spacingAndGlyphs" fill="#1e1e1e" font-family="Liberation Sans" font-weight="normal" transform="rotate(-90 83.6 324)">In the event of</text>
<text x="87.5" y="324" font-size="4.3" textLength="27" lengthAdjust="spacingAndGlyphs" fill="#1e1e1e" font-family="Liberation Sans" font-weight="normal" transform="rotate(-90 87.5 324)">finished surface</text>
<text x="166.2" y="293" font-size="4.3" textLength="33" lengthAdjust="spacingAndGlyphs" fill="#1e1e1e" font-family="Liberation Sans" font-weight="normal" transform="rotate(90 166.2 293)">Attenzione in caso di</text>
<text x="170.5" y="293" font-size="4.3" textLength="33" lengthAdjust="spacingAndGlyphs" fill="#1e1e1e" font-family="Liberation Sans" font-weight="normal" transform="rotate(90 170.5 293)">superficie finita</text>
<text x="174.89999999999998" y="302" font-size="4.3" textLength="15" lengthAdjust="spacingAndGlyphs" fill="#1e1e1e" font-family="Liberation Sans" font-weight="bold" transform="rotate(90 174.89999999999998 302)">Atención!</text>
<text x="180.2" y="293" font-size="4.3" textLength="33" lengthAdjust="spacingAndGlyphs" fill="#1e1e1e" font-family="Liberation Sans" font-weight="normal" transform="rotate(90 180.2 293)">En caso de cambios</text>
<text x="183.1" y="293" font-size="4.3" textLength="33" lengthAdjust="spacingAndGlyphs" fill="#1e1e1e" font-family="Liberation Sans" font-weight="normal" transform="rotate(90 183.1 293)">en la superficie</text>
<text x="189.6" y="300" font-size="4.3" textLength="18" lengthAdjust="spacingAndGlyphs" fill="#1e1e1e" font-family="Liberation Sans" font-weight="bold" transform="rotate(90 189.6 300)">Attenzione!</text>
<text x="272.50" y="297.1" font-size="5.3" textLength="33.6" lengthAdjust="spacingAndGlyphs" fill="#2a2a2a" font-family="Liberation Sans">Fliesenvorderkante</text>
<text x="267.90" y="303.40000000000003" font-size="5.3" textLength="42.8" lengthAdjust="spacingAndGlyphs" fill="#2a2a2a" font-family="Liberation Sans">Face avant du carrelage</text>
<text x="270.70" y="309.2" font-size="5.3" textLength="37.2" lengthAdjust="spacingAndGlyphs" fill="#2a2a2a" font-family="Liberation Sans">Finished wall surface</text>
<text x="263.75" y="315.2" font-size="5.3" textLength="51.1" lengthAdjust="spacingAndGlyphs" fill="#2a2a2a" font-family="Liberation Sans">Parte esterna della piastrella</text>
<text x="273.45" y="321.3" font-size="5.3" textLength="31.7" lengthAdjust="spacingAndGlyphs" fill="#2a2a2a" font-family="Liberation Sans">Margen delantero</text>
<text x="275.75" y="326.2" font-size="5.3" textLength="27.1" lengthAdjust="spacingAndGlyphs" fill="#2a2a2a" font-family="Liberation Sans">de las baldosas</text>
<path d="M258.0,293 L256.4,296.5 L259.6,296.5 Z" fill="#222" stroke="#232323" stroke-width="0" />
<line x1="258" y1="296" x2="258" y2="300.5" stroke="#222" stroke-width="1"/>
<line x1="254.5" y1="301" x2="261.5" y2="301" stroke="#222" stroke-width="0.8"/>
<text x="254.0" y="303.8" font-size="4.2" textLength="8" lengthAdjust="spacingAndGlyphs" fill="#222" font-family="Liberation Sans" font-weight="bold">min.</text>
<text x="254.0" y="320.6" font-size="4.2" textLength="8" lengthAdjust="spacingAndGlyphs" fill="#222" font-family="Liberation Sans" font-weight="bold">max.</text>
<line x1="254.5" y1="321" x2="261.5" y2="321" stroke="#222" stroke-width="0.8"/>
<line x1="258" y1="321" x2="258" y2="325" stroke="#222" stroke-width="1"/>
<path d="M258.0,327 L256.4,323.5 L259.6,323.5 Z" fill="#222" stroke="#232323" stroke-width="0" />
<path d="M320.0,293 L318.4,296.5 L321.6,296.5 Z" fill="#222" stroke="#232323" stroke-width="0" />
<line x1="320" y1="296" x2="320" y2="300.5" stroke="#222" stroke-width="1"/>
<line x1="316.5" y1="301" x2="323.5" y2="301" stroke="#222" stroke-width="0.8"/>
<text x="316.0" y="303.8" font-size="4.2" textLength="8" lengthAdjust="spacingAndGlyphs" fill="#222" font-family="Liberation Sans" font-weight="bold">min.</text>
<text x="316.0" y="320.6" font-size="4.2" textLength="8" lengthAdjust="spacingAndGlyphs" fill="#222" font-family="Liberation Sans" font-weight="bold">max.</text>
<line x1="316.5" y1="321" x2="323.5" y2="321" stroke="#222" stroke-width="0.8"/>
<line x1="320" y1="321" x2="320" y2="325" stroke="#222" stroke-width="1"/>
<path d="M320.0,327 L318.4,323.5 L321.6,323.5 Z" fill="#222" stroke="#232323" stroke-width="0" />
<text x="211.5" y="318" font-size="4.3" textLength="17" lengthAdjust="spacingAndGlyphs" fill="#1e1e1e" font-family="Liberation Sans" font-weight="bold" transform="rotate(-90 211.5 318)">Achtung!</text>
<text x="215.3" y="324" font-size="4.3" textLength="27" lengthAdjust="spacingAndGlyphs" fill="#1e1e1e" font-family="Liberation Sans" font-weight="normal" transform="rotate(-90 215.3 324)">Bei Fliesenplatte</text>
<text x="219.1" y="324" font-size="4.3" textLength="27" lengthAdjust="spacingAndGlyphs" fill="#1e1e1e" font-family="Liberation Sans" font-weight="normal" transform="rotate(-90 219.1 324)">(wing surface)</text>
<text x="226.1" y="317" font-size="4.3" textLength="15" lengthAdjust="spacingAndGlyphs" fill="#1e1e1e" font-family="Liberation Sans" font-weight="bold" transform="rotate(-90 226.1 317)">Attention!</text>
<text x="230.0" y="326" font-size="4.3" textLength="32" lengthAdjust="spacingAndGlyphs" fill="#1e1e1e" font-family="Liberation Sans" font-weight="normal" transform="rotate(-90 230.0 326)">En cas de changes de</text>
<text x="233.9" y="326" font-size="4.3" textLength="32" lengthAdjust="spacingAndGlyphs" fill="#1e1e1e" font-family="Liberation Sans" font-weight="normal" transform="rotate(-90 233.9 326)">la surface finie</text>
<text x="241.6" y="316" font-size="4.3" textLength="12" lengthAdjust="spacingAndGlyphs" fill="#1e1e1e" font-family="Liberation Sans" font-weight="bold" transform="rotate(-90 241.6 316)">Caution!</text>
<text x="245.4" y="324" font-size="4.3" textLength="27" lengthAdjust="spacingAndGlyphs" fill="#1e1e1e" font-family="Liberation Sans" font-weight="normal" transform="rotate(-90 245.4 324)">In the event of</text>
<text x="249.3" y="324" font-size="4.3" textLength="27" lengthAdjust="spacingAndGlyphs" fill="#1e1e1e" font-family="Liberation Sans" font-weight="normal" transform="rotate(-90 249.3 324)">finished surface</text>
<text x="328.0" y="293" font-size="4.3" textLength="33" lengthAdjust="spacingAndGlyphs" fill="#1e1e1e" font-family="Liberation Sans" font-weight="normal" transform="rotate(90 328.0 293)">Attenzione in caso di</text>
<text x="332.3" y="293" font-size="4.3" textLength="33" lengthAdjust="spacingAndGlyphs" fill="#1e1e1e" font-family="Liberation Sans" font-weight="normal" transform="rotate(90 332.3 293)">superficie finita</text>
<text x="336.7" y="302" font-size="4.3" textLength="15" lengthAdjust="spacingAndGlyphs" fill="#1e1e1e" font-family="Liberation Sans" font-weight="bold" transform="rotate(90 336.7 302)">Atención!</text>
<text x="342.0" y="293" font-size="4.3" textLength="33" lengthAdjust="spacingAndGlyphs" fill="#1e1e1e" font-family="Liberation Sans" font-weight="normal" transform="rotate(90 342.0 293)">En caso de cambios</text>
<text x="344.9" y="293" font-size="4.3" textLength="33" lengthAdjust="spacingAndGlyphs" fill="#1e1e1e" font-family="Liberation Sans" font-weight="normal" transform="rotate(90 344.9 293)">en la superficie</text>
<text x="351.4" y="300" font-size="4.3" textLength="18" lengthAdjust="spacingAndGlyphs" fill="#1e1e1e" font-family="Liberation Sans" font-weight="bold" transform="rotate(90 351.4 300)">Attenzione!</text>
<text x="432.50" y="297.1" font-size="5.3" textLength="33.6" lengthAdjust="spacingAndGlyphs" fill="#2a2a2a" font-family="Liberation Sans">Fliesenvorderkante</text>
<text x="427.90" y="303.40000000000003" font-size="5.3" textLength="42.8" lengthAdjust="spacingAndGlyphs" fill="#2a2a2a" font-family="Liberation Sans">Face avant du carrelage</text>
<text x="430.70" y="309.2" font-size="5.3" textLength="37.2" lengthAdjust="spacingAndGlyphs" fill="#2a2a2a" font-family="Liberation Sans">Finished wall surface</text>
<text x="423.75" y="315.2" font-size="5.3" textLength="51.1" lengthAdjust="spacingAndGlyphs" fill="#2a2a2a" font-family="Liberation Sans">Parte esterna della piastrella</text>
<text x="433.45" y="321.3" font-size="5.3" textLength="31.7" lengthAdjust="spacingAndGlyphs" fill="#2a2a2a" font-family="Liberation Sans">Margen delantero</text>
<text x="435.75" y="326.2" font-size="5.3" textLength="27.1" lengthAdjust="spacingAndGlyphs" fill="#2a2a2a" font-family="Liberation Sans">de las baldosas</text>
<path d="M418.0,293 L416.4,296.5 L419.6,296.5 Z" fill="#222" stroke="#232323" stroke-width="0" />
<line x1="418" y1="296" x2="418" y2="300.5" stroke="#222" stroke-width="1"/>
<line x1="414.5" y1="301" x2="421.5" y2="301" stroke="#222" stroke-width="0.8"/>
<text x="414.0" y="303.8" font-size="4.2" textLength="8" lengthAdjust="spacingAndGlyphs" fill="#222" font-family="Liberation Sans" font-weight="bold">min.</text>
<text x="414.0" y="320.6" font-size="4.2" textLength="8" lengthAdjust="spacingAndGlyphs" fill="#222" font-family="Liberation Sans" font-weight="bold">max.</text>
<line x1="414.5" y1="321" x2="421.5" y2="321" stroke="#222" stroke-width="0.8"/>
<line x1="418" y1="321" x2="418" y2="325" stroke="#222" stroke-width="1"/>
<path d="M418.0,327 L416.4,323.5 L419.6,323.5 Z" fill="#222" stroke="#232323" stroke-width="0" />
<path d="M480.0,293 L478.4,296.5 L481.6,296.5 Z" fill="#222" stroke="#232323" stroke-width="0" />
<line x1="480" y1="296" x2="480" y2="300.5" stroke="#222" stroke-width="1"/>
<line x1="476.5" y1="301" x2="483.5" y2="301" stroke="#222" stroke-width="0.8"/>
<text x="476.0" y="303.8" font-size="4.2" textLength="8" lengthAdjust="spacingAndGlyphs" fill="#222" font-family="Liberation Sans" font-weight="bold">min.</text>
<text x="476.0" y="320.6" font-size="4.2" textLength="8" lengthAdjust="spacingAndGlyphs" fill="#222" font-family="Liberation Sans" font-weight="bold">max.</text>
<line x1="476.5" y1="321" x2="483.5" y2="321" stroke="#222" stroke-width="0.8"/>
<line x1="480" y1="321" x2="480" y2="325" stroke="#222" stroke-width="1"/>
<path d="M480.0,327 L478.4,323.5 L481.6,323.5 Z" fill="#222" stroke="#232323" stroke-width="0" />
<text x="371.5" y="318" font-size="4.3" textLength="17" lengthAdjust="spacingAndGlyphs" fill="#1e1e1e" font-family="Liberation Sans" font-weight="bold" transform="rotate(-90 371.5 318)">Achtung!</text>
<text x="375.3" y="324" font-size="4.3" textLength="27" lengthAdjust="spacingAndGlyphs" fill="#1e1e1e" font-family="Liberation Sans" font-weight="normal" transform="rotate(-90 375.3 324)">Bei Fliesenplatte</text>
<text x="379.1" y="324" font-size="4.3" textLength="27" lengthAdjust="spacingAndGlyphs" fill="#1e1e1e" font-family="Liberation Sans" font-weight="normal" transform="rotate(-90 379.1 324)">(wing surface)</text>
<text x="386.1" y="317" font-size="4.3" textLength="15" lengthAdjust="spacingAndGlyphs" fill="#1e1e1e" font-family="Liberation Sans" font-weight="bold" transform="rotate(-90 386.1 317)">Attention!</text>
<text x="390.0" y="326" font-size="4.3" textLength="32" lengthAdjust="spacingAndGlyphs" fill="#1e1e1e" font-family="Liberation Sans" font-weight="normal" transform="rotate(-90 390.0 326)">En cas de changes de</text>
<text x="393.9" y="326" font-size="4.3" textLength="32" lengthAdjust="spacingAndGlyphs" fill="#1e1e1e" font-family="Liberation Sans" font-weight="normal" transform="rotate(-90 393.9 326)">la surface finie</text>
<text x="401.6" y="316" font-size="4.3" textLength="12" lengthAdjust="spacingAndGlyphs" fill="#1e1e1e" font-family="Liberation Sans" font-weight="bold" transform="rotate(-90 401.6 316)">Caution!</text>
<text x="405.4" y="324" font-size="4.3" textLength="27" lengthAdjust="spacingAndGlyphs" fill="#1e1e1e" font-family="Liberation Sans" font-weight="normal" transform="rotate(-90 405.4 324)">In the event of</text>
<text x="409.3" y="324" font-size="4.3" textLength="27" lengthAdjust="spacingAndGlyphs" fill="#1e1e1e" font-family="Liberation Sans" font-weight="normal" transform="rotate(-90 409.3 324)">finished surface</text>
<text x="488.0" y="293" font-size="4.3" textLength="33" lengthAdjust="spacingAndGlyphs" fill="#1e1e1e" font-family="Liberation Sans" font-weight="normal" transform="rotate(90 488.0 293)">Attenzione in caso di</text>
<text x="492.3" y="293" font-size="4.3" textLength="33" lengthAdjust="spacingAndGlyphs" fill="#1e1e1e" font-family="Liberation Sans" font-weight="normal" transform="rotate(90 492.3 293)">superficie finita</text>
<text x="496.7" y="302" font-size="4.3" textLength="15" lengthAdjust="spacingAndGlyphs" fill="#1e1e1e" font-family="Liberation Sans" font-weight="bold" transform="rotate(90 496.7 302)">Atención!</text>
<text x="502.0" y="293" font-size="4.3" textLength="33" lengthAdjust="spacingAndGlyphs" fill="#1e1e1e" font-family="Liberation Sans" font-weight="normal" transform="rotate(90 502.0 293)">En caso de cambios</text>
<text x="504.9" y="293" font-size="4.3" textLength="33" lengthAdjust="spacingAndGlyphs" fill="#1e1e1e" font-family="Liberation Sans" font-weight="normal" transform="rotate(90 504.9 293)">en la superficie</text>
<text x="511.4" y="300" font-size="4.3" textLength="18" lengthAdjust="spacingAndGlyphs" fill="#1e1e1e" font-family="Liberation Sans" font-weight="bold" transform="rotate(90 511.4 300)">Attenzione!</text>
<line x1="72.2" y1="292" x2="72.2" y2="327" stroke="#666" stroke-width="0.6"/>
</g>
<line x1="541" y1="214.5" x2="593" y2="214.5" stroke="#4d4d4d" stroke-width="1"/>
<line x1="569.6" y1="214.5" x2="569.6" y2="241" stroke="#4d4d4d" stroke-width="1.0"/>
<line x1="569.6" y1="261.2" x2="569.6" y2="291.7" stroke="#4d4d4d" stroke-width="1.0"/>
<polygon points="569.60,214.50 564.70,223.00 574.50,223.00" fill="#1c1c1c"/>
<polygon points="569.60,291.60 564.70,283.10 574.50,283.10" fill="#1c1c1c"/>
<g fill="none" stroke="#222" stroke-width="1.2" stroke-linecap="round" stroke-linejoin="round" transform="translate(565.40 257.20) rotate(-90) scale(1.000)"><g transform="translate(0.00 0)"><ellipse cx="3.1" cy="2.45" rx="2.1" ry="1.95"/><ellipse cx="3.1" cy="6.45" rx="2.6" ry="2.25"/></g><g transform="translate(8.80 0)"><path d="M0.5,0.5 L5.5,0.5 L1.8,8.7"/></g></g>
<line x1="586.4" y1="214.5" x2="586.4" y2="259" stroke="#4d4d4d" stroke-width="1.0"/>
<line x1="586.4" y1="287.5" x2="586.4" y2="327.5" stroke="#4d4d4d" stroke-width="1.0"/>
<polygon points="586.40,214.50 581.50,223.00 591.30,223.00" fill="#1c1c1c"/>
<polygon points="586.40,327.50 581.50,319.00 591.30,319.00" fill="#1c1c1c"/>
<g fill="none" stroke="#222" stroke-width="1.2" stroke-linecap="round" stroke-linejoin="round" transform="translate(581.70 283.00) rotate(-90) scale(1.000)"><g transform="translate(0.00 0)"><path d="M0.6,1.9 L2.5,0.5 L2.5,8.7"/></g><g transform="translate(6.15 0)"><path d="M0.6,2.6 C0.7,1.3 1.7,0.5 3.0,0.5 C4.4,0.5 5.4,1.4 5.4,2.7 C5.4,3.6 4.9,4.3 4.2,5.0 L0.6,8.7 L5.6,8.7"/></g><g transform="translate(15.30 0)"><path d="M0.6,2.6 C0.7,1.3 1.7,0.5 3.0,0.5 C4.4,0.5 5.4,1.4 5.4,2.7 C5.4,3.6 4.9,4.3 4.2,5.0 L0.6,8.7 L5.6,8.7"/></g></g>
<polygon points="524.40,291.70 519.50,300.20 529.30,300.20" fill="#1c1c1c"/>
<polygon points="524.40,327.50 519.50,319.00 529.30,319.00" fill="#1c1c1c"/>
<g fill="none" stroke="#222" stroke-width="1.2" stroke-linecap="round" stroke-linejoin="round" transform="translate(519.40 316.80) rotate(-90) scale(1.000)"><g transform="translate(0.00 0)"><path d="M0.8,1.6 C1.3,0.9 2.1,0.5 3.0,0.5 C4.3,0.5 5.2,1.3 5.2,2.4 C5.2,3.6 4.2,4.3 2.8,4.3 C4.6,4.3 5.5,5.2 5.5,6.5 C5.5,7.8 4.4,8.7 3.0,8.7 C1.9,8.7 1.0,8.2 0.5,7.4"/></g><g transform="translate(9.40 0)"><path d="M5.5,0.5 L1.3,0.5 L0.9,4.2 C1.5,3.7 2.3,3.4 3.2,3.4 C4.7,3.4 5.7,4.5 5.7,6.0 C5.7,7.6 4.6,8.7 3.0,8.7 C1.9,8.7 1.0,8.2 0.5,7.3"/></g></g>
<line x1="27.5" y1="328.7" x2="44" y2="328.7" stroke="#4d4d4d" stroke-width="1.0"/>
<line x1="27.5" y1="338.7" x2="44" y2="338.7" stroke="#4d4d4d" stroke-width="1.0"/>
<line x1="36.25" y1="310" x2="36.25" y2="328.7" stroke="#4d4d4d" stroke-width="1.0"/>
<polygon points="36.25,328.70 31.35,320.20 41.15,320.20" fill="#1c1c1c"/>
<polygon points="36.25,338.70 31.35,347.20 41.15,347.20" fill="#1c1c1c"/>
<line x1="36.25" y1="338.7" x2="36.25" y2="360.5" stroke="#4d4d4d" stroke-width="1.0"/>
<g fill="none" stroke="#222" stroke-width="1.2" stroke-linecap="round" stroke-linejoin="round" transform="translate(31.00 377.20) rotate(-90) scale(1.000)"><g transform="translate(0.00 0)"><path d="M0.6,1.9 L2.5,0.5 L2.5,8.7"/></g><g transform="translate(7.20 0)"><ellipse cx="3.5" cy="4.6" rx="3.0" ry="4.1"/></g></g>
<line x1="45" y1="338" x2="45" y2="383" stroke="#4d4d4d" stroke-width="1.0"/>
<line x1="511.8" y1="338" x2="511.8" y2="385" stroke="#4d4d4d" stroke-width="1.0"/>
<line x1="211.6" y1="256.5" x2="211.6" y2="357" stroke="#333" stroke-width="1"/>
<polygon points="45.00,352.40 53.50,347.50 53.50,357.30" fill="#1c1c1c"/>
<line x1="45" y1="352.4" x2="112" y2="352.4" stroke="#4d4d4d" stroke-width="1.0"/>
<g fill="none" stroke="#222" stroke-width="1.2" stroke-linecap="round" stroke-linejoin="round" transform="translate(117.30 347.80) scale(1.000)"><g transform="translate(0.00 0)"><path d="M0.6,1.9 L2.5,0.5 L2.5,8.7"/></g><g transform="translate(6.65 0)"><path d="M0.5,0.5 L5.5,0.5 L1.8,8.7"/></g><g transform="translate(16.30 0)"><ellipse cx="3.1" cy="2.45" rx="2.1" ry="1.95"/><ellipse cx="3.1" cy="6.45" rx="2.6" ry="2.25"/></g></g>
<line x1="145.5" y1="352.4" x2="211.6" y2="352.4" stroke="#4d4d4d" stroke-width="1.0"/>
<polygon points="211.60,352.40 203.10,347.50 203.10,357.30" fill="#1c1c1c"/>
<polygon points="211.60,352.40 220.10,347.50 220.10,357.30" fill="#1c1c1c"/>
<line x1="211.6" y1="352.4" x2="233" y2="352.4" stroke="#4d4d4d" stroke-width="1.0"/>
<g fill="none" stroke="#222" stroke-width="1.2" stroke-linecap="round" stroke-linejoin="round" transform="translate(239.00 347.80) scale(1.000)"><g transform="translate(0.00 0)"><path d="M0.5,0.5 L5.5,0.5 L1.8,8.7"/></g><g transform="translate(12.60 0)"><path d="M0.6,1.9 L2.5,0.5 L2.5,8.7"/></g></g>
<line x1="260" y1="352.4" x2="278.2" y2="352.4" stroke="#4d4d4d" stroke-width="1.0"/>
<polygon points="278.20,352.40 269.70,347.50 269.70,357.30" fill="#1c1c1c"/>
<polygon points="278.20,352.40 286.70,347.50 286.70,357.30" fill="#1c1c1c"/>
<line x1="278.2" y1="352.4" x2="377" y2="352.4" stroke="#4d4d4d" stroke-width="1.0"/>
<g fill="none" stroke="#222" stroke-width="1.2" stroke-linecap="round" stroke-linejoin="round" transform="translate(383.20 347.80) scale(1.000)"><g transform="translate(0.00 0)"><path d="M0.6,2.6 C0.7,1.3 1.7,0.5 3.0,0.5 C4.4,0.5 5.4,1.4 5.4,2.7 C5.4,3.6 4.9,4.3 4.2,5.0 L0.6,8.7 L5.6,8.7"/></g><g transform="translate(9.30 0)"><path d="M4.9,8.7 L4.9,0.5 L0.5,6.5 L6.3,6.5"/></g><g transform="translate(19.40 0)"><circle cx="3.2" cy="3.1" r="2.6"/><path d="M5.6,4.0 L2.3,8.7"/></g></g>
<line x1="413" y1="352.4" x2="511.8" y2="352.4" stroke="#4d4d4d" stroke-width="1.0"/>
<polygon points="511.80,352.40 503.30,347.50 503.30,357.30" fill="#1c1c1c"/>
<polygon points="45.00,375.60 53.50,370.70 53.50,380.50" fill="#1c1c1c"/>
<line x1="45" y1="375.6" x2="279" y2="375.6" stroke="#4d4d4d" stroke-width="1.0"/>
<g fill="none" stroke="#222" stroke-width="1.2" stroke-linecap="round" stroke-linejoin="round" transform="translate(283.20 371.40) scale(1.000)"><g transform="translate(0.00 0)"><path d="M4.9,8.7 L4.9,0.5 L0.5,6.5 L6.3,6.5"/></g><g transform="translate(10.80 0)"><circle cx="3.2" cy="3.1" r="2.6"/><path d="M5.6,4.0 L2.3,8.7"/></g><g transform="translate(21.20 0)"><ellipse cx="3.1" cy="2.45" rx="2.1" ry="1.95"/><ellipse cx="3.1" cy="6.45" rx="2.6" ry="2.25"/></g></g>
<line x1="315" y1="375.6" x2="511.8" y2="375.6" stroke="#4d4d4d" stroke-width="1.0"/>
<polygon points="511.80,375.60 503.30,370.70 503.30,380.50" fill="#1c1c1c"/>
<line x1="278.1" y1="204.2" x2="278.1" y2="500" stroke="#444" stroke-width="1" stroke-dasharray="5.6,2.8"/>
<line x1="33" y1="393.3" x2="523" y2="393.3" stroke="#1a1a1a" stroke-width="2.4" stroke-dasharray="5.8,4.7"/>
<line x1="33.5" y1="407.3" x2="523" y2="407.3" stroke="#1a1a1a" stroke-width="2.4" stroke-dasharray="5.8,4.7"/>
<rect x="109.8" y="407.5" width="2.4" height="2.6" fill="#333"/>
<rect x="177.3" y="407.5" width="2.4" height="2.6" fill="#333"/>
<rect x="240.8" y="407.5" width="2.4" height="2.6" fill="#333"/>
<rect x="313.3" y="407.5" width="2.4" height="2.6" fill="#333"/>
<line x1="30.8" y1="392.3" x2="30.8" y2="408.3" stroke="#232323" stroke-width="2.1"/>
<line x1="525.2" y1="392.3" x2="525.2" y2="408.3" stroke="#232323" stroke-width="2.1"/>
<line x1="29.6" y1="396" x2="29.6" y2="496" stroke="#4d4d4d" stroke-width="1"/>
<line x1="524.4" y1="408" x2="524.4" y2="500" stroke="#4d4d4d" stroke-width="1"/>
<line x1="62" y1="411.5" x2="62" y2="463.5" stroke="#1a1a1a" stroke-width="2.5" stroke-dasharray="5.8,4"/>
<line x1="94.4" y1="411.5" x2="94.4" y2="463.5" stroke="#1a1a1a" stroke-width="2.5" stroke-dasharray="5.8,4"/>
<line x1="62" y1="407" x2="62" y2="410.5" stroke="#232323" stroke-width="2.3"/>
<line x1="94.4" y1="407" x2="94.4" y2="410.5" stroke="#232323" stroke-width="2.3"/>
<line x1="59.5" y1="408.2" x2="64.5" y2="408.2" stroke="#232323" stroke-width="1.8"/>
<line x1="91.9" y1="408.2" x2="96.9" y2="408.2" stroke="#232323" stroke-width="1.8"/>
<path d="M67.2,462 Q67.5,451 78.1,450.6 Q88.7,451 89,462" fill="none" stroke="#232323" stroke-width="2.4" stroke-dasharray="4.5,3"/>
<path d="M67.6,459 Q65.6,465 67.2,471" fill="none" stroke="#232323" stroke-width="3.2" stroke-linecap="round"/>
<path d="M88.6,459 Q90.6,465 89,471" fill="none" stroke="#232323" stroke-width="3.2" stroke-linecap="round"/>
<path d="M323.8,407.5 L323.8,446.3 L365.1,446.3 L365.1,407.5" fill="none" stroke="#232323" stroke-width="1.9" stroke-dasharray="5.5,3.6"/>
<line x1="323.8" y1="407.5" x2="323.8" y2="418" stroke="#232323" stroke-width="1.9"/>
<line x1="365.1" y1="407.5" x2="365.1" y2="418" stroke="#232323" stroke-width="1.9"/>
<line x1="325.8" y1="409.2" x2="363.1" y2="409.2" stroke="#232323" stroke-width="1.6" stroke-dasharray="5,2.5"/>
<line x1="327.8" y1="416.5" x2="360.8" y2="416.5" stroke="#232323" stroke-width="1.6" stroke-dasharray="6,2.5"/>
<path d="M340.5,446.3 L340.5,430.5 Q340.5,428.6 342.40000000000003,428.6 L346.1,428.6 Q348.0,428.6 348.0,430.5 L348.0,446.3" fill="none" stroke="#232323" stroke-width="1.8" stroke-dasharray="4.5,3"/>
<path d="M457.3,407.5 L457.3,446.3 L498.6,446.3 L498.6,407.5" fill="none" stroke="#232323" stroke-width="1.9" stroke-dasharray="5.5,3.6"/>
<line x1="457.3" y1="407.5" x2="457.3" y2="418" stroke="#232323" stroke-width="1.9"/>
<line x1="498.6" y1="407.5" x2="498.6" y2="418" stroke="#232323" stroke-width="1.9"/>
<line x1="459.3" y1="409.2" x2="496.6" y2="409.2" stroke="#232323" stroke-width="1.6" stroke-dasharray="5,2.5"/>
<line x1="461.3" y1="416.5" x2="494.3" y2="416.5" stroke="#232323" stroke-width="1.6" stroke-dasharray="6,2.5"/>
<path d="M474.0,446.3 L474.0,430.5 Q474.0,428.6 475.90000000000003,428.6 L479.6,428.6 Q481.5,428.6 481.5,430.5 L481.5,446.3" fill="none" stroke="#232323" stroke-width="1.8" stroke-dasharray="4.5,3"/>
<polygon points="29.60,486.60 38.10,481.70 38.10,491.50" fill="#1c1c1c"/>
<line x1="29.6" y1="486.6" x2="129" y2="486.6" stroke="#4d4d4d" stroke-width="1.0"/>
<g fill="none" stroke="#222" stroke-width="1.2" stroke-linecap="round" stroke-linejoin="round" transform="translate(140.50 482.30) scale(1.000)"><g transform="translate(0.00 0)"><path d="M0.6,2.6 C0.7,1.3 1.7,0.5 3.0,0.5 C4.4,0.5 5.4,1.4 5.4,2.7 C5.4,3.6 4.9,4.3 4.2,5.0 L0.6,8.7 L5.6,8.7"/></g><g transform="translate(9.80 0)"><path d="M4.5,0.5 L1.2,5.0"/><circle cx="3.2" cy="6.1" r="2.6"/></g><g transform="translate(20.00 0)"><path d="M0.8,1.6 C1.3,0.9 2.1,0.5 3.0,0.5 C4.3,0.5 5.2,1.3 5.2,2.4 C5.2,3.6 4.2,4.3 2.8,4.3 C4.6,4.3 5.5,5.2 5.5,6.5 C5.5,7.8 4.4,8.7 3.0,8.7 C1.9,8.7 1.0,8.2 0.5,7.4"/></g></g>
<line x1="175" y1="486.6" x2="277.8" y2="486.6" stroke="#4d4d4d" stroke-width="1.0"/>
<polygon points="277.80,486.60 269.30,481.70 269.30,491.50" fill="#1c1c1c"/>
<polygon points="277.80,486.60 286.30,481.70 286.30,491.50" fill="#1c1c1c"/>
<line x1="277.8" y1="486.6" x2="390" y2="486.6" stroke="#4d4d4d" stroke-width="1.0"/>
<g fill="none" stroke="#222" stroke-width="1.2" stroke-linecap="round" stroke-linejoin="round" transform="translate(394.50 482.30) scale(1.000)"><g transform="translate(0.00 0)"><path d="M0.6,2.6 C0.7,1.3 1.7,0.5 3.0,0.5 C4.4,0.5 5.4,1.4 5.4,2.7 C5.4,3.6 4.9,4.3 4.2,5.0 L0.6,8.7 L5.6,8.7"/></g><g transform="translate(9.80 0)"><path d="M4.5,0.5 L1.2,5.0"/><circle cx="3.2" cy="6.1" r="2.6"/></g><g transform="translate(20.00 0)"><path d="M0.8,1.6 C1.3,0.9 2.1,0.5 3.0,0.5 C4.3,0.5 5.2,1.3 5.2,2.4 C5.2,3.6 4.2,4.3 2.8,4.3 C4.6,4.3 5.5,5.2 5.5,6.5 C5.5,7.8 4.4,8.7 3.0,8.7 C1.9,8.7 1.0,8.2 0.5,7.4"/></g></g>
<line x1="429" y1="486.6" x2="524.4" y2="486.6" stroke="#4d4d4d" stroke-width="1.0"/>
<polygon points="524.40,486.60 515.90,481.70 515.90,491.50" fill="#1c1c1c"/>
</svg>
</body></html>
